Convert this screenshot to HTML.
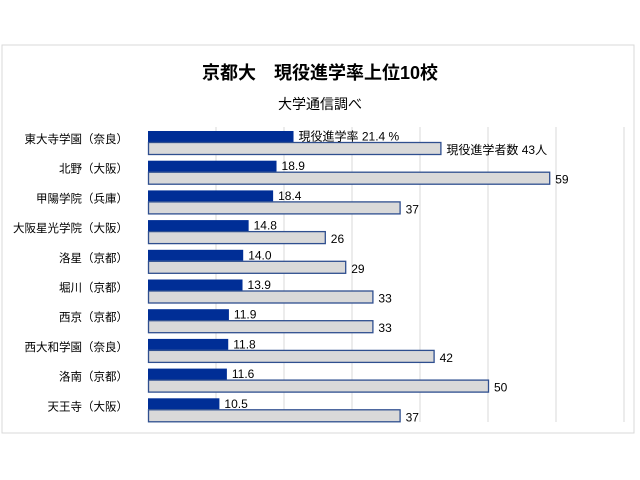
<!DOCTYPE html>
<html><head><meta charset="utf-8"><style>
body{margin:0;background:#fff;}
svg{display:block;font-family:"Liberation Sans","Noto Sans CJK JP",sans-serif;}
</style></head><body>
<svg id="chart" width="640" height="480">
<rect x="2" y="45" width="632" height="388" fill="#fff" stroke="#d9d9d9"/>
<text x="320" y="79" text-anchor="middle" font-size="18" font-weight="bold" fill="#000">京都大　現役進学率上位10校</text>
<text x="320" y="109" text-anchor="middle" font-size="14" fill="#000">大学通信調べ</text>
<g id="grid"></g><g id="bars"></g>
</svg>
<script>
const categories=["東大寺学園（奈良）","北野（大阪）","甲陽学院（兵庫）","大阪星光学院（大阪）","洛星（京都）","堀川（京都）","西京（京都）","西大和学園（奈良）","洛南（京都）","天王寺（大阪）"];
const rateValues=[21.4,18.9,18.4,14.8,14.0,13.9,11.9,11.8,11.6,10.5];
const countValues=[43,59,37,26,29,33,33,42,50,37];
const gridTicks=[10,20,30,40,50,60,70];
const NS="http://www.w3.org/2000/svg";
const x0=148,scale=6.8,top0=128,pitch=29.7;
const xs=v=>x0+v*scale;
function mk(t,a,p){const e=document.createElementNS(NS,t);for(const k in a)e.setAttribute(k,a[k]);p.appendChild(e);return e;}
const g=document.getElementById('grid'),b=document.getElementById('bars');
gridTicks.forEach(t=>{const l=mk('line',{x1:xs(t),x2:xs(t),y1:127,y2:422,stroke:'#d9d9d9'},g);

});
categories.forEach((c,i)=>{
const y=top0+i*pitch+3;
const lab=mk('text',{x:128,y:y+12,'text-anchor':'end','font-size':11.5,fill:'#000'},b);lab.textContent=c;


const r=mk('rect',{x:x0,y:y,width:xs(rateValues[i])-x0,height:11,fill:'#002e96'},b);


const cb=mk('rect',{x:x0+0.5,y:y+11.5,width:xs(countValues[i])-x0,height:12,fill:'#d9d9d9',stroke:'#2f4f8f','stroke-width':1.3},b);


const rt=mk('text',{x:xs(rateValues[i])+5,y:y+9.5,'font-size':12,fill:'#000'},b);
rt.textContent=(i===0?'現役進学率 ':'')+rateValues[i].toFixed(1)+(i===0?' %':'');


const ct=mk('text',{x:xs(countValues[i])+6,y:y+23,'font-size':12,fill:'#000'},b);
ct.textContent=(i===0?'現役進学者数 ':'')+countValues[i]+(i===0?'人':'');


});
</script>
</body></html>
